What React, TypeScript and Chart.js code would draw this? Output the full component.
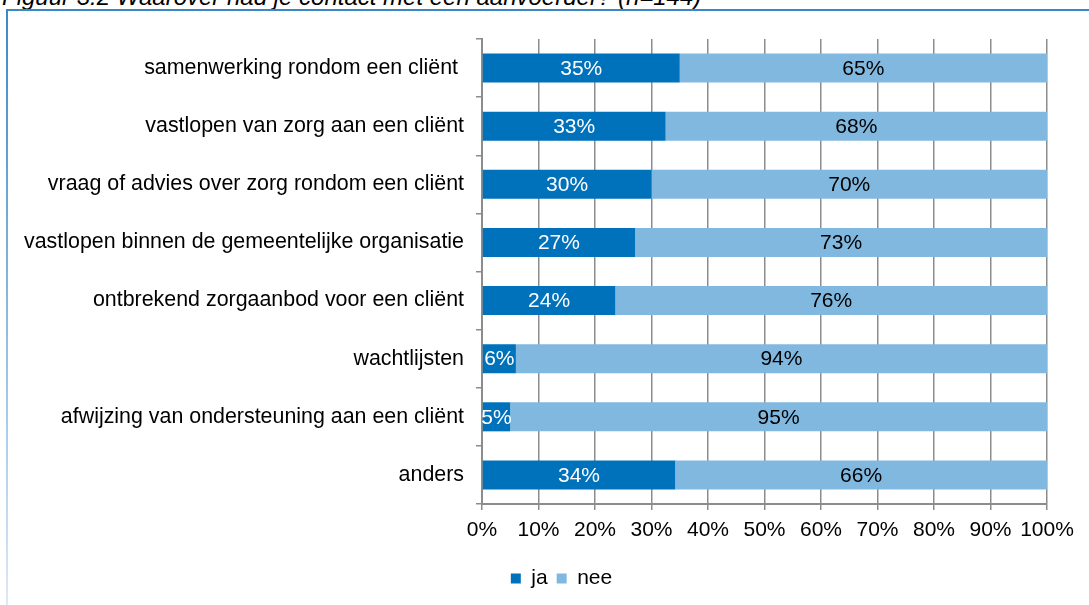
import React, { useEffect, useRef } from "react";
import { Chart, registerables } from "chart.js";

Chart.register(...registerables);

const titleText = "Figuur 3.2 Waarover had je contact met een aanvoerder? (n=144)";
const categories = [
  "samenwerking rondom een cliënt ",
  "vastlopen van zorg aan een cliënt",
  "vraag of advies over zorg rondom een cliënt",
  "vastlopen binnen de gemeentelijke organisatie",
  "ontbrekend zorgaanbod voor een cliënt",
  "wachtlijsten",
  "afwijzing van ondersteuning aan een cliënt",
  "anders",
];
const jaValues = [35, 32.5, 30, 27.1, 23.6, 6, 5, 34.2];
const neeValues = [65, 67.5, 70, 72.9, 76.4, 94, 95, 65.8];
const seriesNames = ["ja", "nee"];
const xTicks = [0, 10, 20, 30, 40, 50, 60, 70, 80, 90, 100];

const JA_COLOR = "#0071BB";
const NEE_COLOR = "#80B8DF";
const GRID = "#8C8C8C";
const FONT = "'Liberation Sans', Arial, sans-serif";

const dataLabelPlugin = {
  id: "barLabels",
  afterDatasetsDraw(chart: any) {
    const ctx = chart.ctx;
    ctx.save();
    ctx.font = `21px ${FONT}`;
    ctx.textAlign = "center";
    ctx.textBaseline = "middle";
    chart.data.datasets.forEach((ds: any, di: number) => {
      const meta = chart.getDatasetMeta(di);
      meta.data.forEach((el: any, i: number) => {
        const { x, base, y } = el.getProps(["x", "base", "y"], true);
        ctx.fillStyle = di === 0 ? "#FFFFFF" : "#000000";
        ctx.fillText(Math.round(ds.data[i]) + "%", (x + base) / 2, y + 1);
      });
    });
    ctx.restore();
  },
};

// shifts the legend block to the right so it sits where the reference has it
const legendShiftPlugin = {
  id: "legendShift",
  afterLayout(chart: any) {
    const lg = chart.legend;
    if (!lg) return;
    const shift = 38;
    lg.left += shift;
    lg.right += shift;
    if (lg.legendHitBoxes) lg.legendHitBoxes.forEach((b: any) => (b.left += shift));
  },
};

export default function App() {
  const ref = useRef<HTMLCanvasElement | null>(null);

  useEffect(() => {
    if (!ref.current) return;
    const chart = new Chart(ref.current, {
      type: "bar",
      data: {
        labels: categories,
        datasets: [
          { label: seriesNames[0], data: jaValues, backgroundColor: JA_COLOR, borderWidth: 0 },
          { label: seriesNames[1], data: neeValues, backgroundColor: NEE_COLOR, borderWidth: 0 },
        ],
      },
      options: {
        indexAxis: "y",
        responsive: false,
        animation: false,
        maintainAspectRatio: false,
        datasets: { bar: { barPercentage: 0.5, categoryPercentage: 1 } },
        layout: { padding: { left: 0, right: 42, top: 39, bottom: 6 } },
        plugins: {
          legend: {
            position: "bottom",
            align: "center",
            labels: {
              boxWidth: 10,
              boxHeight: 10,
              padding: 9,
              color: "#000",
              font: { family: FONT, size: 21 },
            },
          },
          tooltip: { enabled: false },
          title: { display: false },
        },
        scales: {
          x: {
            stacked: true,
            min: 0,
            max: 100,
            afterBuildTicks: (scale: any) => {
              scale.ticks = xTicks.map((v) => ({ value: v }));
            },
            afterFit: (scale: any) => {
              scale.height = 55;
            },
            ticks: {
              color: "#000",
              font: { family: FONT, size: 21 },
              padding: 8,
              maxRotation: 0,
              autoSkip: false,
              callback: (v: any) => v + "%",
            },
            grid: {
              color: GRID,
              lineWidth: 1.5,
              tickLength: 6,
              drawTicks: true,
            },
            border: { display: true, color: GRID, width: 2 },
          },
          y: {
            stacked: true,
            afterFit: (scale: any) => {
              scale.width = 482;
            },
            ticks: {
              color: "#000",
              font: { family: FONT, size: 21.4 },
              padding: 12,
              autoSkip: false,
            },
            grid: {
              display: true,
              drawOnChartArea: false,
              drawTicks: true,
              tickLength: 6,
              color: GRID,
              lineWidth: 1.5,
              offset: true,
            },
            border: { display: true, color: GRID, width: 2 },
          },
        },
      },
      plugins: [dataLabelPlugin, legendShiftPlugin],
    } as any);
    return () => chart.destroy();
  }, []);

  return (
    <div style={{ position: "absolute", left: 0, top: 0, width: 1089, height: 605, overflow: "hidden", background: "#fff" }}>
      <div
        style={{
          position: "absolute",
          left: 2,
          top: -17,
          fontFamily: FONT,
          fontStyle: "italic",
          fontSize: 24,
          lineHeight: "28px",
          color: "#000",
          whiteSpace: "nowrap",
        }}
      >
        {titleText}
      </div>
      <div style={{ position: "absolute", left: 6, top: 9, width: 1083, height: 2, background: "#3A89C6" }} />
      <div
        style={{
          position: "absolute",
          left: 6,
          top: 9,
          width: 2,
          height: 596,
          background: "linear-gradient(#3A89C6, #DCE8F6)",
        }}
      />
      <canvas ref={ref} width={1089} height={605} style={{ position: "absolute", left: 0, top: 0 }} />
    </div>
  );
}
